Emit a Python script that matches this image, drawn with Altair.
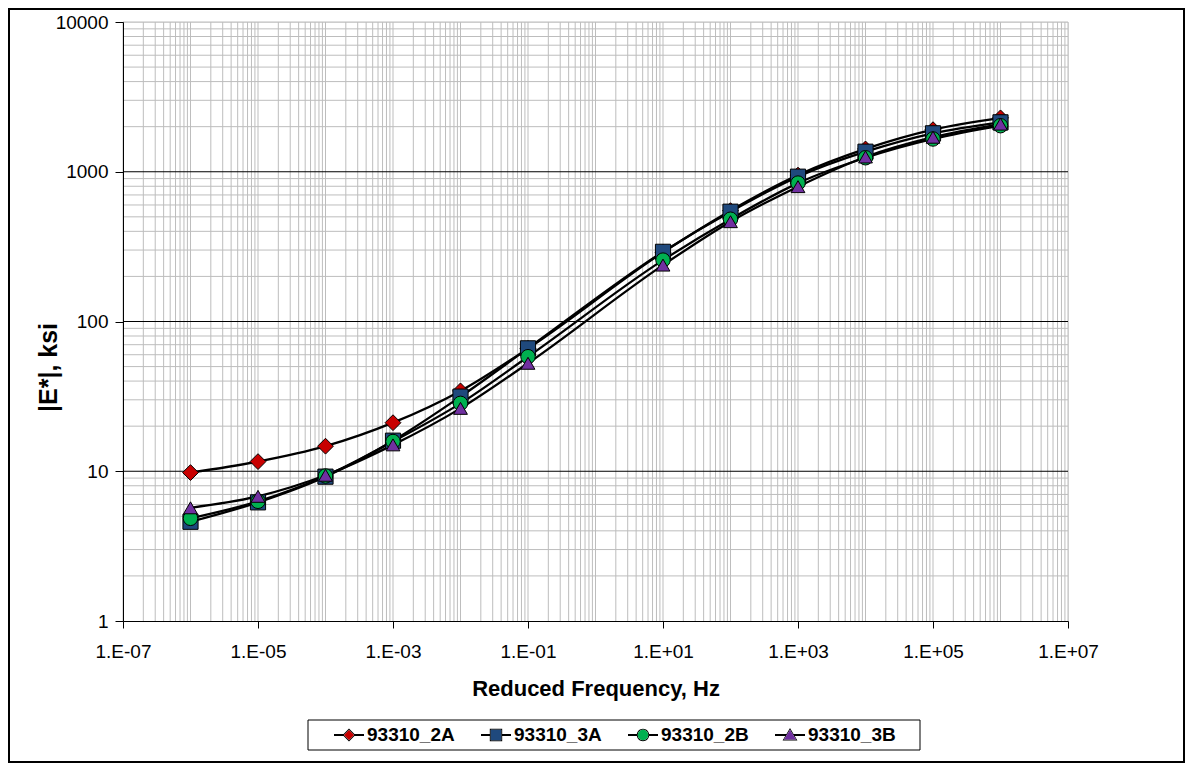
import altair as alt
import pandas as pd

# ---- data ----
freq = [1e-6, 1e-5, 1e-4, 1e-3, 1e-2, 1e-1, 1e1, 1e2, 1e3, 1e4, 1e5, 1e6]
series_names = ["93310_2A", "93310_3A", "93310_2B", "93310_3B"]
e_2A = [9.8, 11.6, 14.7, 21.1, 34.4, 66.0, 290, 550, 950, 1420, 1910, 2290]
e_3A = [4.6, 6.2, 9.2, 16.0, 31.5, 66.2, 292, 541, 927, 1361, 1806, 2138]
e_2B = [4.85, 6.3, 9.3, 15.8, 28.4, 58.2, 257, 482, 840, 1240, 1655, 2030]
e_3B = [5.7, 6.8, 9.4, 15.0, 26.3, 52.6, 238, 464, 795, 1255, 1700, 2080]
fill_colors = ["#C80000", "#1F497D", "#00B050", "#7030A0"]
marker_shapes = ["diamond", "square", "circle", "triangle-up"]
marker_sizes = [250, 190, 150, 220]

# legend glyphs: black part (connector line + outline ring) and coloured interior.
# Both carry the same zero-area frame so the two legends lay out identically.
FRAME = " M-1.5,0H1.5 M0,-0.72V0.72"
legend_black = [
    "M-1.5,-0.1H-0.5V0.1H-1.5Z M0.5,-0.1H1.5V0.1H0.5Z "
    "M0,-0.64L0.64,0L0,0.64L-0.64,0Z M0,-0.5L-0.5,0L0,0.5L0.5,0Z" + FRAME,
    "M-1.5,-0.1H-0.55V0.1H-1.5Z M0.55,-0.1H1.5V0.1H0.55Z "
    "M-0.62,-0.62H0.62V0.62H-0.62Z M-0.52,-0.52V0.52H0.52V-0.52Z" + FRAME,
    "M-1.5,-0.1H-0.55V0.1H-1.5Z M0.55,-0.1H1.5V0.1H0.55Z "
    "M0.62,0A0.62,0.62,0,1,1,-0.62,0A0.62,0.62,0,1,1,0.62,0Z "
    "M0.52,0A0.52,0.52,0,1,0,-0.52,0A0.52,0.52,0,1,0,0.52,0Z" + FRAME,
    "M-1.5,-0.1H-0.38V0.1H-1.5Z M0.38,-0.1H1.5V0.1H0.38Z "
    "M0,-0.7L0.74,0.55H-0.74Z M0,-0.52L-0.6,0.46H0.6Z" + FRAME,
]
legend_fill = [
    "M0,-0.5L0.5,0L0,0.5L-0.5,0Z" + FRAME,
    "M-0.52,-0.52H0.52V0.52H-0.52Z" + FRAME,
    "M0.52,0A0.52,0.52,0,1,1,-0.52,0A0.52,0.52,0,1,1,0.52,0Z" + FRAME,
    "M0,-0.52L0.6,0.46H-0.6Z" + FRAME,
]

x_ticks = [1e-7, 1e-5, 1e-3, 1e-1, 1e1, 1e3, 1e5, 1e7]
y_ticks = [1, 10, 100, 1000, 10000]
x_grid = [m * 10.0 ** e for e in range(-7, 7) for m in range(1, 10)] + [1e7]
y_minor = [m * 10.0 ** e for e in range(0, 4) for m in range(2, 10)] + [10000]
y_major = [10, 100, 1000]

rows = []
for name, vals in zip(series_names, [e_2A, e_3A, e_2B, e_3B]):
    for f, v in zip(freq, vals):
        rows.append({"series": name, "freq": f, "E": v})
df = pd.DataFrame(rows)

FONT = "Liberation Sans"
xscale = alt.Scale(type="log", domain=[1e-7, 1e7], nice=False)
yscale = alt.Scale(type="log", domain=[1, 10000], nice=False)

xaxis = alt.Axis(
    values=x_ticks, grid=False, title="Reduced Frequency, Hz",
    labelExpr="'1.E' + (datum.value >= 1 ? '+' : '-') + format(abs(round(log(datum.value)/LN10)), '02d')",
    labelFont=FONT, labelFontSize=19, labelColor="black", labelPadding=14,
    labelBaseline="top", tickSize=7, tickColor="black", domainColor="black",
    titleFont=FONT, titleFontSize=22, titleFontWeight="bold", titleColor="black",
    titleY=74, titleBaseline="alphabetic", zindex=1, labelFlush=False, labelOverlap=False,
)
yaxis = alt.Axis(
    values=y_ticks, grid=False, title="|E*|, ksi", format="d",
    labelFont=FONT, labelFontSize=19, labelColor="black", labelPadding=7,
    tickSize=8, tickColor="black", domainColor="black",
    titleFont=FONT, titleFontSize=25, titleFontWeight="bold", titleColor="black",
    titleX=-75, titleY=345, titleAlign="center", titleBaseline="middle", titleAngle=270,
    zindex=1, labelFlush=False, labelOverlap=False,
)

def X(field):
    return alt.X(field, type="quantitative", scale=xscale, axis=xaxis)

def Y(field):
    return alt.Y(field, type="quantitative", scale=yscale, axis=yaxis)

vgrid = alt.Chart(pd.DataFrame({"v": x_grid})).mark_rule(color="#bdbdbd", strokeWidth=1).encode(x=X("v"))
hgrid = alt.Chart(pd.DataFrame({"v": y_minor})).mark_rule(color="#bdbdbd", strokeWidth=1).encode(y=Y("v"))
hmajor = alt.Chart(pd.DataFrame({"v": y_major})).mark_rule(color="black", strokeWidth=1).encode(y=Y("v"))

lines = alt.Chart(df).mark_line(color="black", strokeWidth=2.3, interpolate="monotone").encode(
    x=X("freq"), y=Y("E"), detail="series:N"
)

points = alt.Chart(df).mark_point(filled=True, opacity=1, stroke="black", strokeWidth=1).encode(
    x=X("freq"), y=Y("E"),
    shape=alt.Shape("series:N", scale=alt.Scale(domain=series_names, range=marker_shapes), legend=None),
    fill=alt.Fill("series:N", scale=alt.Scale(domain=series_names, range=fill_colors), legend=None),
    size=alt.Size("series:N", scale=alt.Scale(domain=series_names, range=marker_sizes), legend=None),
)

common = dict(
    title=None, orient="none", legendX=216, legendY=703, direction="horizontal",
    symbolSize=400, labelOffset=8, columnPadding=26, padding=0,
    labelFont=FONT, labelFontSize=19, labelFontWeight="bold", labelColor="black",
    symbolStrokeWidth=0, symbolOpacity=1,
)
leg_black = alt.Legend(symbolFillColor="black", labelOpacity=0, **common)
leg_fill = alt.Legend(**common)

legend_layer_black = alt.Chart(df).transform_filter("false").mark_point(
    filled=True, opacity=1, color="black"
).encode(
    shape=alt.Shape("series:N", scale=alt.Scale(domain=series_names, range=legend_black), legend=leg_black),
)
legend_layer_fill = alt.Chart(df).transform_filter("false").mark_point(
    filled=True, opacity=1
).encode(
    shape=alt.Shape("series:N", scale=alt.Scale(domain=series_names, range=legend_fill), legend=leg_fill),
    fill=alt.Fill("series:N", scale=alt.Scale(domain=series_names, range=fill_colors), legend=leg_fill),
)

one = pd.DataFrame({"a": [0]})
legend_box = alt.Chart(one).mark_rect(fillOpacity=0, stroke="black", strokeWidth=1).encode(
    x=alt.value(185), x2=alt.value(797), y=alt.value(698), y2=alt.value(728)
)
outer_box = alt.Chart(one).mark_rect(fillOpacity=0, stroke="black", strokeWidth=2).encode(
    x=alt.value(-114), x2=alt.value(1061), y=alt.value(-13), y2=alt.value(740)
)

chart = alt.layer(
    vgrid, hgrid, hmajor, lines, points, legend_layer_black, legend_layer_fill, legend_box, outer_box
).resolve_scale(
    shape="independent", fill="independent"
).properties(
    width=945, height=599,
    autosize=alt.AutoSizeParams(type="none"),
    padding={"left": 115, "top": 14, "right": 117, "bottom": 142},
).configure_view(stroke=None).configure(background="white")

chart.save("out.html", embed_options={"renderer": "svg", "actions": False})
